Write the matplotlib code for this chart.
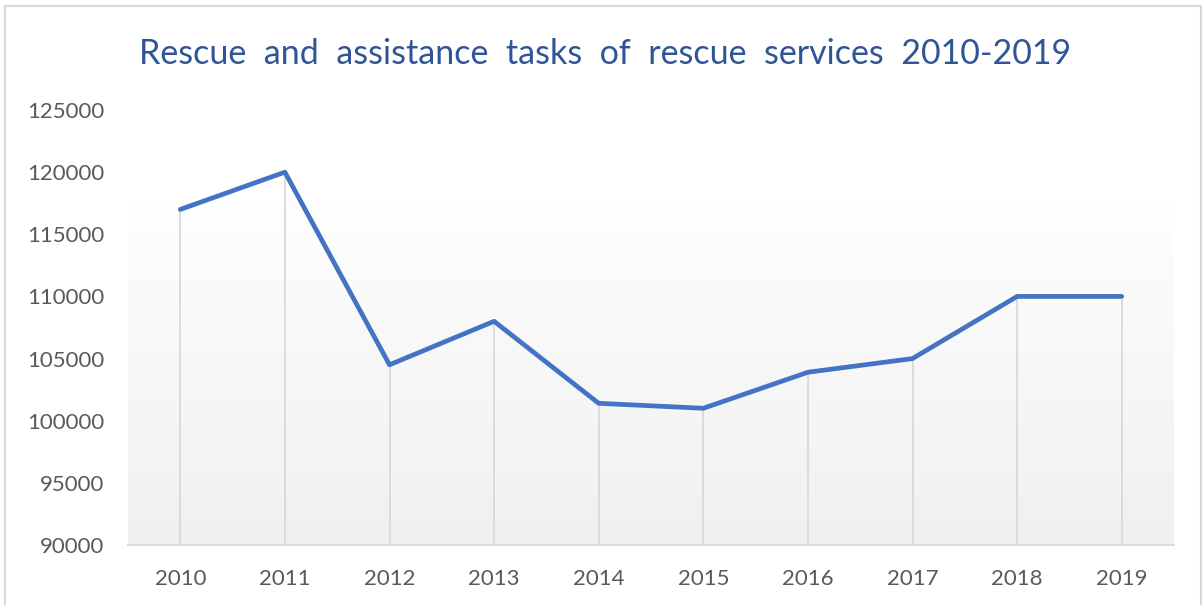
import numpy as np
import matplotlib.pyplot as plt
from matplotlib.colors import LinearSegmentedColormap
from matplotlib.patches import Rectangle

years = ['2010', '2011', '2012', '2013', '2014', '2015', '2016', '2017', '2018', '2019']
tasks = [117000, 120000, 104500, 108000, 101400, 101000, 103900, 105000, 110000, 110000]
y_ticks = [90000, 95000, 100000, 105000, 110000, 115000, 120000, 125000]

plt.rcParams['font.family'] = ['Lato', 'DejaVu Sans']

fig = plt.figure(figsize=(12.04, 6.05), dpi=100)
ax = fig.add_axes([128/1204, 1 - 545/605, (1174 - 128)/1204, (545 - 110)/605])

x = np.arange(len(years))

# excel-like gradient fill of the plot area
grad = np.linspace(0, 1, 256).reshape(-1, 1)
cmap = LinearSegmentedColormap.from_list('g', ['#f0f0f0', '#fefefe'])
ax.imshow(grad, cmap=cmap, aspect='auto', origin='lower',
          extent=[-0.5, len(years) - 0.5, 90000, 117200], zorder=0)

ax.vlines(x, 90000, tasks, colors='#d9d9d9', linewidth=1.3, zorder=1)
ax.plot(x, tasks, color='#4472C4', linewidth=3.4, solid_capstyle='round',
        solid_joinstyle='round', zorder=3)

ax.set_xlim(-0.5, len(years) - 0.5)
ax.set_ylim(90000, 125000)
ax.set_xticks(x, years)
ax.set_yticks(y_ticks, [str(v) for v in y_ticks])
ax.tick_params(length=0, labelsize=16, colors='#595959')
ax.tick_params(axis='x', pad=17)
ax.tick_params(axis='y', pad=17)

for s in ['top', 'right', 'left']:
    ax.spines[s].set_visible(False)
ax.spines['bottom'].set_color('#d9d9d9')
ax.spines['bottom'].set_linewidth(1.3)
ax.spines['bottom'].set_zorder(2)

fig.text(605/1204, 1 - 54/605,
         'Rescue  and  assistance  tasks  of  rescue  services  2010-2019',
         ha='center', va='center', fontsize=24.5, color='#2F5597')

fig.patches.append(Rectangle((5/1204, -0.05), 1196/1204, 1 - 6/605 + 0.05,
                             transform=fig.transFigure, fill=False,
                             edgecolor='#d9d9d9', linewidth=1.5))

fig.savefig('out.png', dpi=100)
